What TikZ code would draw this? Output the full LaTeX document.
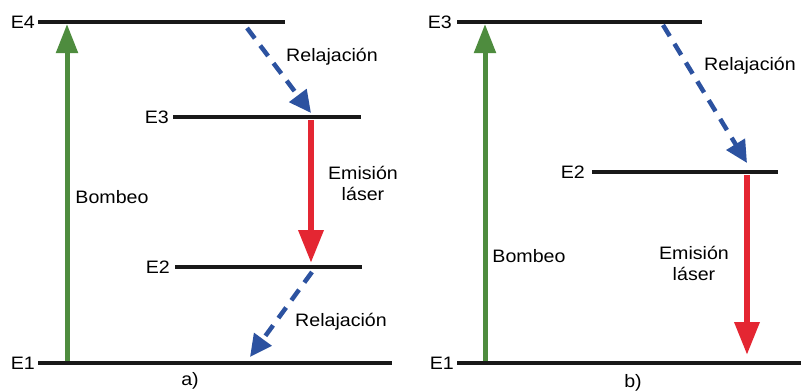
\documentclass[tikz,border=0pt]{standalone}
\usepackage{fontspec}
\setmainfont{Liberation Sans}
\newfontfamily\widesans[FakeStretch=1.09]{Liberation Sans}
\usetikzlibrary{arrows.meta}
\definecolor{pumpgreen}{RGB}{78,140,62}
\definecolor{laserred}{RGB}{228,38,50}
\definecolor{relaxblue}{RGB}{44,82,160}
\definecolor{levelblack}{RGB}{25,25,25}
\begin{document}
\begin{tikzpicture}[x=1pt,y=-1pt,
  level/.style={draw=levelblack,line width=3.6pt},
  lbl/.style={font=\widesans\fontsize{18}{21}\selectfont,inner sep=0pt,align=center},
  pump/.style={draw=pumpgreen,line width=5pt,-{Triangle[length=29pt,width=21pt]}},
  emit/.style={draw=laserred,line width=6.5pt,-{Triangle[length=33pt,width=24pt]}},
  relax/.style={draw=relaxblue,line width=4.5pt,dash pattern=on 13pt off 9pt,-{Triangle[length=22pt,width=21pt]}}]
\useasboundingbox (0,0) rectangle (801,391);
\fill[white] (0,0) rectangle (801,391);
% ---------- panel a ----------
\coordinate (a4l) at (38,22);  \coordinate (a4r) at (285,22);
\coordinate (a3l) at (173,117); \coordinate (a3r) at (361,117);
\coordinate (a2l) at (175,267); \coordinate (a2r) at (362,267);
\coordinate (a1l) at (38,363);  \coordinate (a1r) at (392,363);
\draw[level] (a4l) -- (a4r);
\draw[level] (a3l) -- (a3r);
\draw[level] (a2l) -- (a2r);
\draw[level] (a1l) -- (a1r);
\node[lbl,anchor=east] (aE4) at (35,22) {E4};
\node[lbl,anchor=east] (aE3) at (169,117) {E3};
\node[lbl,anchor=east] (aE2) at (170,267) {E2};
\node[lbl,anchor=east] (aE1) at (35,363) {E1};
\coordinate (apS) at (67,361); \coordinate (apE) at (67,24);
\draw[pump] (apS) -- (apE);
\coordinate (ar1S) at (247,28); \coordinate (ar1E) at (311,113);
\draw[relax] (ar1S) -- (ar1E);
\coordinate (aeS) at (311,120); \coordinate (aeE) at (311,263);
\draw[emit] (aeS) -- (aeE);
\coordinate (ar2S) at (312,272); \coordinate (ar2E) at (250,357);
\draw[relax] (ar2S) -- (ar2E);
\node[lbl] (aRel1) at (332,57) {Relajación};
\node[lbl] (aEm) at (363,183) {Emisión\\láser};
\node[lbl] (aBomb) at (112,197) {Bombeo};
\node[lbl] (aRel2) at (341,322) {Relajación};
\node[lbl] (aCap) at (190,381) {a)};
% ---------- panel b ----------
\coordinate (b3l) at (457,22);  \coordinate (b3r) at (702,22);
\coordinate (b2l) at (592,172); \coordinate (b2r) at (778,172);
\coordinate (b1l) at (457,363); \coordinate (b1r) at (801,363);
\draw[level] (b3l) -- (b3r);
\draw[level] (b2l) -- (b2r);
\draw[level] (b1l) -- (b1r);
\node[lbl,anchor=east] (bE3) at (452,22) {E3};
\node[lbl,anchor=east] (bE2) at (585,172) {E2};
\node[lbl,anchor=east] (bE1) at (454,363) {E1};
\coordinate (bpS) at (485,361); \coordinate (bpE) at (485,24);
\draw[pump] (bpS) -- (bpE);
\coordinate (brS) at (663,25); \coordinate (brE) at (747,163);
\draw[relax] (brS) -- (brE);
\coordinate (beS) at (747,175); \coordinate (beE) at (747,355);
\draw[emit] (beS) -- (beE);
\node[lbl] (bRel) at (750,66) {Relajación};
\node[lbl] (bEm) at (694,263) {Emisión\\láser};
\node[lbl] (bBomb) at (529,256) {Bombeo};
\node[lbl] (bCap) at (633,383) {b)};
\end{tikzpicture}
\end{document}
